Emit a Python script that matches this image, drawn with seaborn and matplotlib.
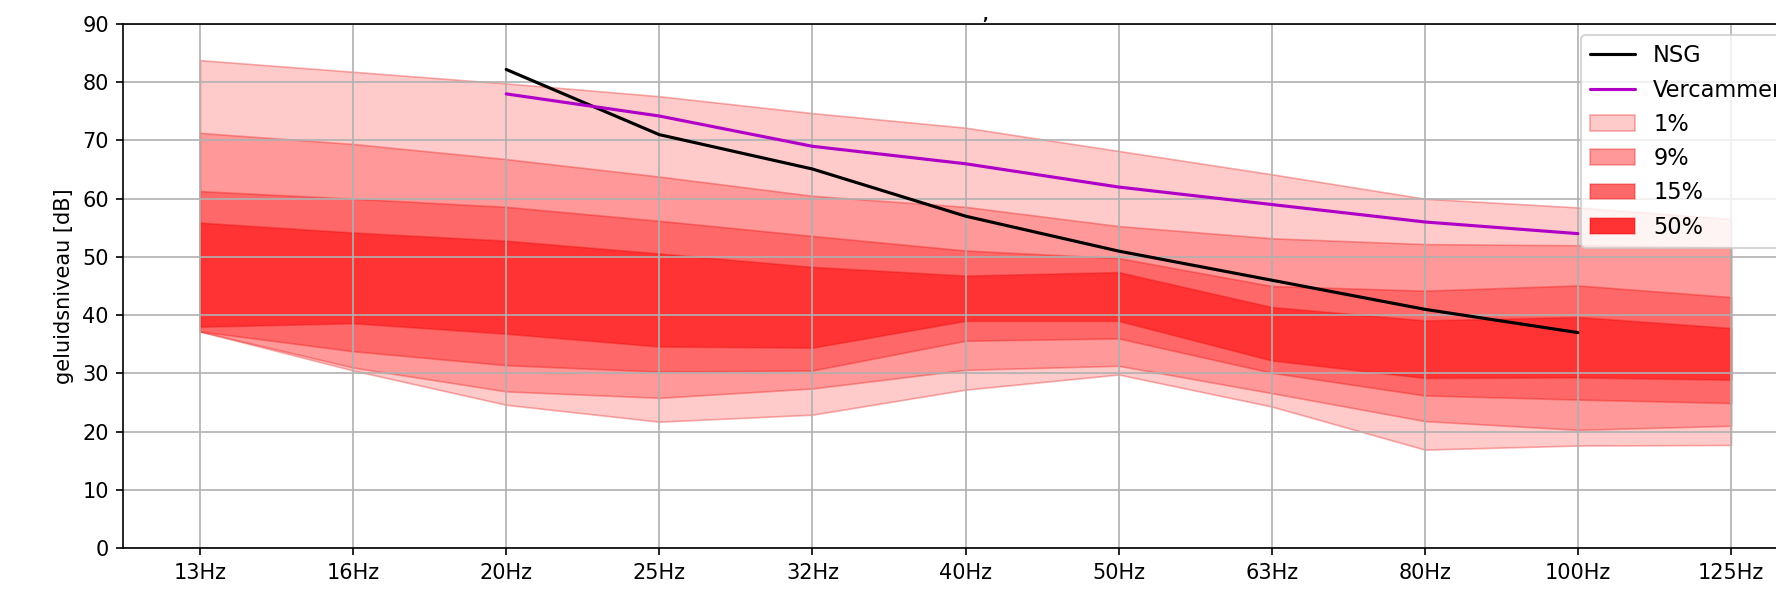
import numpy as np
import pandas as pd
import matplotlib
matplotlib.use("Agg")
import matplotlib.pyplot as plt
import seaborn as sns

freqs = ['13Hz', '16Hz', '20Hz', '25Hz', '32Hz', '40Hz', '50Hz', '63Hz', '80Hz', '100Hz', '125Hz']

# percentile bands (lower / upper)
p1_lo = [37.2, 30.5, 24.6, 21.7, 22.9, 27.2, 29.8, 24.3, 16.9, 17.6, 17.7]
p1_hi = [83.8, 81.8, 79.8, 77.6, 74.7, 72.2, 68.2, 64.2, 60.0, 58.5, 56.5]
p9_lo = [37.2, 31.0, 26.9, 25.8, 27.4, 30.6, 31.3, 26.6, 21.8, 20.3, 21.0]
p9_hi = [71.3, 69.4, 66.8, 63.8, 60.5, 58.6, 55.3, 53.2, 52.2, 52.0, 51.7]
p15_lo = [37.2, 33.8, 31.4, 30.3, 30.5, 35.6, 36.0, 30.1, 26.2, 25.5, 24.9]
p15_hi = [61.3, 60.0, 58.6, 56.2, 53.6, 51.1, 49.8, 45.0, 44.2, 45.1, 43.1]
p50_lo = [38.0, 38.6, 36.8, 34.6, 34.4, 39.0, 39.0, 32.2, 29.2, 29.3, 28.9]
p50_hi = [55.9, 54.2, 52.8, 50.6, 48.3, 46.8, 47.4, 41.4, 39.1, 39.7, 37.8]

nsg = [np.nan, np.nan, 82.2, 71.0, 65.1, 57.0, 51.0, 46.0, 41.0, 37.0, np.nan]
vercammen = [np.nan, np.nan, 78.0, 74.2, 69.0, 66.0, 62.0, 59.0, 56.0, 54.0, np.nan]

sns.set_style("ticks", {
    "axes.grid": True,
    "grid.color": "#b0b0b0",
    "axes.edgecolor": "black",
    "axes.axisbelow": "line",
    "xtick.color": "black",
    "ytick.color": "black",
    "text.color": "black",
    "axes.labelcolor": "black",
})
plt.rcParams["grid.linewidth"] = 0.8

fig = plt.figure(figsize=(11.84, 3.9467), dpi=150)
ax = fig.add_axes([0.0695, 0.0743, 0.9483, 0.8851])

x = np.arange(len(freqs))
df = pd.DataFrame({"x": x, "NSG": nsg, "Vercammen": vercammen})

bands = [
    ("1%", p1_lo, p1_hi, "#ffcaca"),
    ("9%", p9_lo, p9_hi, "#ff9898"),
    ("15%", p15_lo, p15_hi, "#ff6868"),
    ("50%", p50_lo, p50_hi, "#ff3333"),
]
patches = []
for label, lo, hi, col in bands:
    p = ax.fill_between(x, lo, hi, facecolor=col, edgecolor=(0.9, 0, 0, 0.3),
                        linewidth=0.8, label=label)
    patches.append(p)

sns.lineplot(data=df, x="x", y="NSG", color="black", linewidth=1.5, ax=ax, label="NSG")
sns.lineplot(data=df, x="x", y="Vercammen", color="#b000c8", linewidth=1.5, ax=ax,
             label="Vercammen")

ax.set_xticks(x)
ax.set_xticklabels(freqs)
ax.set_xlim(-0.5, len(freqs) - 0.5)
ax.set_ylim(0, 90)
ax.set_yticks(range(0, 91, 10))
ax.set_xlabel("")
ax.set_ylabel("geluidsniveau [dB]")
ax.set_title(",", x=0.5115, pad=2, fontsize=7, fontweight="bold")

lines = ax.get_lines()
ax.legend(handles=[lines[0], lines[1]] + patches,
          labels=["NSG", "Vercammen", "1%", "9%", "15%", "50%"],
          loc="upper right", framealpha=0.8, fontsize=10.8)

fig.savefig("out.png", dpi=150)
